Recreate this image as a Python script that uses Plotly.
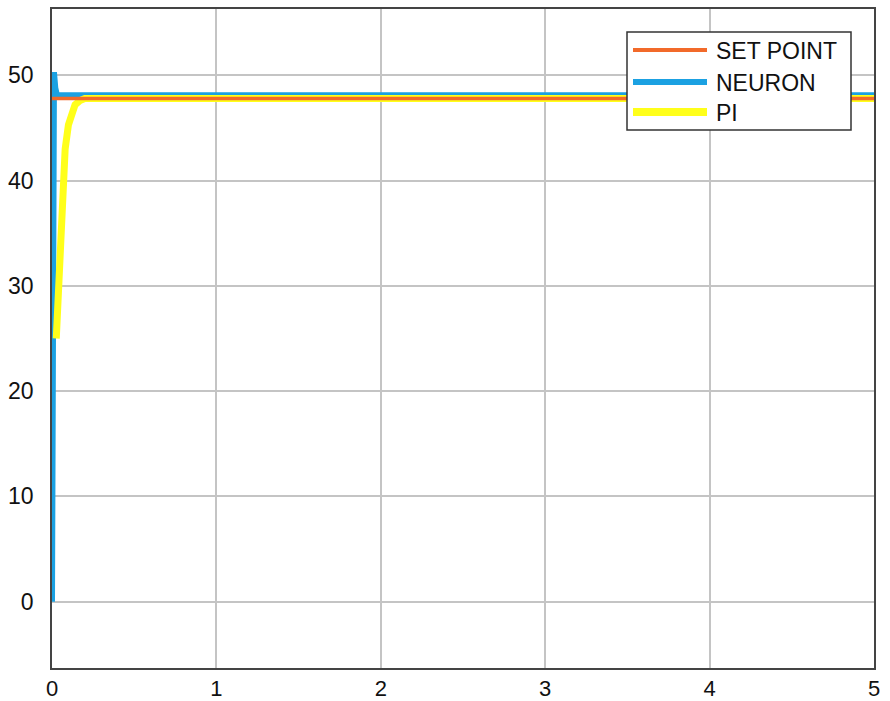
import plotly.graph_objects as go

# Data
setpoint_t = [0, 5]
setpoint_y = [47.8, 47.8]

neuron_t = [0, 0.004, 0.008, 0.012, 0.02, 0.03, 0.5, 5]
neuron_y = [0, 20, 42, 50.3, 48.8, 48.1, 48.1, 48.1]

pi_t = [0.026, 0.035, 0.045, 0.055, 0.065, 0.08, 0.1, 0.12, 0.14, 0.17, 0.2, 0.5, 5]
pi_y = [25, 28, 32, 36.5, 40, 43, 45.3, 46.5, 47.2, 47.6, 47.8, 47.8, 47.8]

x_ticks = [0, 1, 2, 3, 4, 5]
y_ticks = [0, 10, 20, 30, 40, 50]

series_names = ["SET POINT", "NEURON", "PI"]
series_colors = ["#F26A2A", "#1BA1E2", "#FFFF1A"]

FONT = "Liberation Sans, Arial"

fig = go.Figure()
fig.add_trace(go.Scatter(x=neuron_t, y=neuron_y, mode="lines", name=series_names[1],
                         line=dict(color=series_colors[1], width=6)))
fig.add_trace(go.Scatter(x=pi_t, y=pi_y, mode="lines", name=series_names[2],
                         line=dict(color=series_colors[2], width=7)))
fig.add_trace(go.Scatter(x=setpoint_t, y=setpoint_y, mode="lines", name=series_names[0],
                         line=dict(color=series_colors[0], width=3.5)))

axis_common = dict(showgrid=True, gridcolor="#C4C4C4", gridwidth=1.5,
                   showline=True, linecolor="#444444", linewidth=1.5, mirror=True,
                   zeroline=False, ticks="", automargin=False)

fig.update_xaxes(range=[0, 5], tickvals=x_ticks, ticklabelstandoff=0,
                 tickfont=dict(family=FONT, size=22, color="#111111"), **axis_common)
fig.update_yaxes(range=[-6.3, 56.3], tickvals=y_ticks, ticklabelstandoff=12,
                 tickfont=dict(family=FONT, size=23, color="#111111"), **axis_common)

W, H = 890, 701
L, R, T, B = 52, 16, 9, 33
pw, ph = W - L - R, H - T - B

def px(x):
    return (x - L) / pw

def py(y):
    return (H - B - y) / ph

# Custom legend (box, line samples, labels)
shapes = [dict(type="rect", xref="paper", yref="paper",
               x0=px(627), x1=px(851), y0=py(130), y1=py(32),
               fillcolor="white", line=dict(color="#333333", width=1.5), layer="above")]
annotations = []
legend_rows = [50, 82, 112]
legend_widths = [4, 6, 8]
for name, color, yy, lw in zip(series_names, series_colors, legend_rows, legend_widths):
    shapes.append(dict(type="line", xref="paper", yref="paper",
                       x0=px(633), x1=px(707), y0=py(yy), y1=py(yy),
                       line=dict(color=color, width=lw), layer="above"))
    annotations.append(dict(xref="paper", yref="paper", x=px(714), y=py(yy + 1),
                            text=name, showarrow=False, xanchor="left", yanchor="middle",
                            font=dict(family=FONT, size=23, color="#111111")))

fig.update_layout(
    width=W, height=H,
    margin=dict(l=L, r=R, t=T, b=B, autoexpand=False),
    plot_bgcolor="white", paper_bgcolor="white",
    showlegend=False,
    shapes=shapes, annotations=annotations,
)

fig.write_html("out.html", config={"displayModeBar": False},
               post_script="document.body.style.margin='0';")
